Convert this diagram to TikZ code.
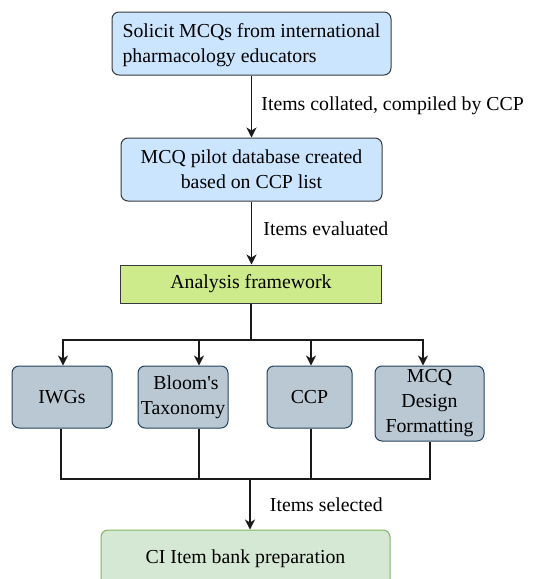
\documentclass[tikz,border=0pt]{standalone}
\usepackage{fontspec}
\setmainfont{Liberation Serif}
\usepackage{tikz}
\usetikzlibrary{
    calc,
    positioning,
    arrows.meta
}

\begin{document}
\begin{tikzpicture}[
    x=1pt, y=-1pt,
    font=\fontsize{19.8}{25}\selectfont,
    box/.style={
    	draw=my-line,
    	line width=1pt,
    	rounded corners=7pt, inner sep=0pt, align=center,
    	fill=my-blue
    }, leaf/.style={
    	box,
    	draw=my-slate,
    	fill=my-grey
    }, pil/.style={
    	-{Stealth[length=10pt,width=10pt,inset=3pt]},
    	line width=1.2pt,
    	draw=my-black
    }, lin/.style={
    	line width=1.2pt,
    	draw=my-black
    }]
    \definecolor{my-blue}{HTML}{CCE5FF}
    \definecolor{my-green}{HTML}{CDEB8B}
    \definecolor{my-mint}{HTML}{D5E8D4}
    \definecolor{my-mintline}{HTML}{82B366}
    \definecolor{my-grey}{HTML}{BAC8D3}
    \definecolor{my-slate}{HTML}{23445D}
    \definecolor{my-line}{HTML}{36393D}
    \definecolor{my-black}{HTML}{1A1A1A}

    \useasboundingbox (0,0) rectangle (534,579);

    %%% main column
    \node[box, minimum width=279pt, minimum height=63pt, align=left, text depth=-8pt] (solicit) at (251.5,43.5)
        {Solicit MCQs from international\\pharmacology educators};
    \node[box, minimum width=261pt, minimum height=63pt] (pilot) at (251.5,169.5)
        {MCQ pilot database created\\based on CCP list};
    \node[box, rounded corners=0pt, fill=my-green, minimum width=261pt, minimum height=38pt] (frame) at (251,284)
        {Analysis framework};

    %%% framework parts
    \node[leaf, minimum width=100pt, minimum height=62pt] (iwg) at (62,397) {IWGs};
    \node[leaf, minimum width=90pt, minimum height=62pt] (bloom) at (183,397) {\hspace*{6pt}Bloom\textquotesingle s\\Taxonomy};
    \node[leaf, minimum width=85pt, minimum height=62pt] (ccp) at (309.5,397) {CCP};
    \node[leaf, minimum width=109pt, minimum height=75pt] (mcq) at (429.5,403.5) {MCQ\\Design\\Formatting};

    \node[box, draw=my-mintline, fill=my-mint, minimum width=289pt, minimum height=58pt] (bank) at (245.5,559)
        {CI Item bank preparation};

    \coordinate (split) at (251,340);
    \coordinate (merge) at (250,479);

    %%% EDGES
    \draw[pil] (solicit) -- node[anchor=west, xshift=6pt, yshift=1pt] {Items collated, compiled by CCP} (pilot);
    \draw[pil] (pilot.south) -- node[anchor=west, xshift=8pt, yshift=4pt] {Items evaluated} (pilot.south |- frame.north);

    \draw[lin] (frame.south) -- (split);
    \draw[pil] (split) -| ([xshift=1pt]iwg.north);
    \draw[pil] (split) -| ([xshift=16pt]bloom.north);
    \draw[pil] (split) -| ([xshift=1.5pt]ccp.north);
    \draw[pil] (split) -| ([xshift=-6.5pt]mcq.north);

    \draw[lin] ([xshift=-1pt]iwg.south) |- (merge);
    \draw[lin] ([xshift=16pt]bloom.south) |- (merge);
    \draw[lin] ([xshift=1.5pt]ccp.south) |- (merge);
    \draw[lin] ([xshift=0.5pt]mcq.south) |- (merge);
    \draw[pil] (merge) -- node[anchor=west, xshift=16pt, yshift=0pt] {Items selected} (merge |- bank.north);

\end{tikzpicture}
\end{document}
